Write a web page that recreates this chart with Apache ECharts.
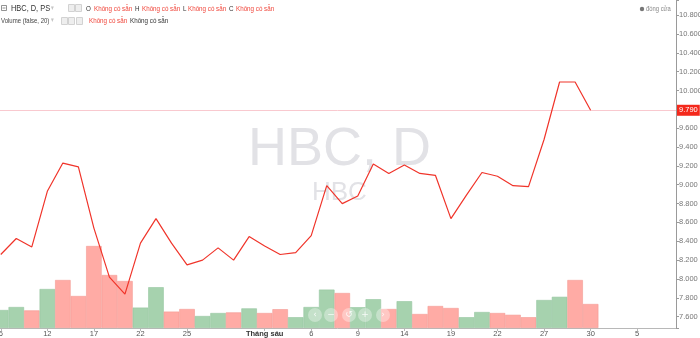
<!DOCTYPE html>
<html>
<head>
<meta charset="utf-8">
<script src="https://cdn.jsdelivr.net/npm/echarts@6/dist/echarts.min.js"></script>
<style>html,body{margin:0;padding:0;background:#fff}#c{width:700px;height:338px}</style>
</head>
<body>
<div id="c"></div>
<script>
// ---- data ----
const slotCount = 44; // visible category slots (incl. future space)
const tickIdx  = [0, 3, 6, 9, 12, 17, 20, 23, 26, 29, 32, 35, 38, 41];
const tickText = ['6', '12', '17', '22', '25', 'Tháng sáu', '6', '9', '14', '19', '22', '27', '30', '5'];
const closes = [8260, 8430, 8340, 8930, 9230, 9190, 8540, 8020, 7840, 8380,
                8640, 8380, 8150, 8200, 8330, 8200, 8450, 8350, 8260, 8280,
                8460, 8990, 8800, 8880, 9220, 9120, 9210, 9120, 9100, 8640,
                8890, 9130, 9090, 8990, 8980, 9480, 10090, 10090, 9790];
const volumes = [450, 525, 440, 975, 1200, 800, 2050, 1325, 1175, 510,
                 1020, 410, 475, 300, 375, 390, 490, 375, 470, 270,
                 525, 960, 875, 520, 720, 475, 670, 350, 550, 500,
                 270, 400, 375, 330, 270, 700, 780, 1200, 600];
const volDir = ['u','u','d','u','d','d','d','d','d','u',
                'u','d','d','u','u','d','u','d','d','u',
                'u','u','d','u','u','d','u','d','d','d',
                'u','u','d','d','d','u','u','d','d'];
const priceTicks = {min: 7480, max: 10960, step: 200};
const naText = 'Không có sẵn';
// ---- end data ----

const categories = Array.from({length: slotCount}, (_, i) => String(i));
const labelOf = i => { const k = tickIdx.indexOf(i); return k < 0 ? '' : tickText[k]; };
const fmt = v => String(v).replace(/\B(?=(\d{3})+(?!\d))/g, '.');
const lastClose = closes[closes.length - 1];

const FONT = "'Liberation Sans', Arial, sans-serif";
const RED_TXT = '#f0453a';
const UP = '#a6d2ae', UPB = '#96c69f', DN = '#ffaba5', DNB = '#f49a94';
const SX = 0.78; // horizontal squeeze of the UI text

function txt(x, y, t, size, fill, font) {
  return {type: 'text', x: x, y: y, scaleX: SX, silent: true,
    style: {text: t, fontSize: size, fill: fill, fontFamily: font || FONT, verticalAlign: 'middle', align: 'left'}};
}
function box(x, y, w, h) {
  return {type: 'rect', silent: true, shape: {x: x + 0.5, y: y + 0.5, width: w, height: h},
          style: {fill: '#eeeeee', stroke: '#d2d2d2', lineWidth: 1}};
}

const chart = echarts.init(document.getElementById('c'), null, {renderer: 'canvas'});
const option = {
  animation: false,
  backgroundColor: '#ffffff',
  textStyle: {fontFamily: FONT},
  grid: {left: -7, right: 24, top: 0, bottom: 10, containLabel: false, outerBoundsMode: 'none'},
  xAxis: {
    type: 'category',
    data: categories,
    boundaryGap: true,
    axisLine: {lineStyle: {color: '#b8b8b8', width: 1}},
    axisTick: {show: true, alignWithLabel: true, length: 3, lineStyle: {color: '#b8b8b8'},
               interval: i => labelOf(i) !== ''},
    axisLabel: {interval: 0, fontSize: 7.5, color: '#555', margin: 2,
                formatter: (v, i) => { const t = labelOf(i); return t === 'Tháng sáu' ? '{b|' + t + '}' : t; },
                rich: {b: {fontSize: 7.5, fontWeight: 'bold', color: '#333'}}},
    splitLine: {show: false}
  },
  yAxis: [{
    type: 'value',
    position: 'right',
    min: priceTicks.min,
    max: priceTicks.max,
    splitNumber: 17,
    scale: true,
    axisLine: {show: true, lineStyle: {color: '#9a9a9a'}},
    axisTick: {show: true, length: 3, lineStyle: {color: '#9a9a9a'}},
    axisLabel: {fontSize: 7.5, color: '#777', margin: 3,
                formatter: v => (v % priceTicks.step === 0 ? fmt(v) : '')},
    splitLine: {show: false}
  }, {
    type: 'value',
    show: false,
    min: 0,
    max: 8200
  }],
  graphic: [
    // watermark
    {type: 'text', left: 248, top: 123, z: 0, silent: true,
     style: {text: 'HBC, D', fontSize: 54, fontFamily: FONT, fill: '#e2e2e6'}},
    {type: 'text', left: 312, top: 180, z: 0, silent: true,
     style: {text: 'HBC', fontSize: 26, fontFamily: FONT, fill: '#e2e2e6'}},
    // legend line 1
    {type: 'rect', silent: true, shape: {x: 1.5, y: 5.5, width: 5, height: 5}, style: {fill: 'none', stroke: '#777', lineWidth: 0.8}},
    {type: 'line', silent: true, shape: {x1: 2.5, y1: 8, x2: 5.5, y2: 8}, style: {stroke: '#777', lineWidth: 0.8}},
    txt(11, 8, 'HBC, D, PS', 9.5, '#333'),
    txt(51, 8, '▾', 7, '#c4c4c4', 'DejaVu Sans'),
    box(68, 4, 6, 7), box(75, 4, 6, 7),
    txt(86, 8.5, 'O', 8, '#333'), txt(94, 8.5, naText, 8, RED_TXT),
    txt(135, 8.5, 'H', 8, '#333'), txt(142, 8.5, naText, 8, RED_TXT),
    txt(183, 8.5, 'L', 8, '#333'), txt(188, 8.5, naText, 8, RED_TXT),
    txt(229, 8.5, 'C', 8, '#333'), txt(236, 8.5, naText, 8, RED_TXT),
    // legend line 2
    txt(1, 20.5, 'Volume (false, 20)', 7.7, '#444'),
    txt(51, 20.5, '▾', 7, '#c4c4c4', 'DejaVu Sans'),
    box(61, 17, 6, 7), box(68, 17, 6, 7), box(76, 17, 6, 7),
    txt(89, 20.5, naText, 8, RED_TXT), txt(130, 20.5, naText, 8, '#333'),
    // close legend top-right
    {type: 'circle', silent: true, shape: {cx: 642, cy: 9, r: 2.2}, style: {fill: '#777'}},
    txt(646, 9, 'đóng cửa', 7.5, '#888'),
    // navigation buttons
    ...[[315, '‹'], [331, '−'], [349, '↺'], [365, '+'], [383, '›']].flatMap(([cx, t]) => [
      {type: 'circle', z: 100, silent: true, shape: {cx: cx, cy: 315, r: 7}, style: {fill: 'rgba(255,255,255,0.35)'}},
      {type: 'text', z: 101, silent: true, x: cx, y: 315, style: {text: t, fontSize: 9, fill: 'rgba(255,255,255,0.85)', align: 'center', verticalAlign: 'middle', fontFamily: 'DejaVu Sans'}}
    ])
  ],
  series: [{
    name: 'Volume',
    type: 'bar',
    yAxisIndex: 1,
    barCategoryGap: '0%',
    z: 1,
    data: volumes.map((v, i) => ({value: v, itemStyle: {
      color: volDir[i] === 'u' ? UP : DN,
      borderColor: volDir[i] === 'u' ? UPB : DNB, borderWidth: 0.6}}))
  }, {
    name: 'đóng cửa',
    type: 'line',
    yAxisIndex: 0,
    data: closes,
    symbol: 'none',
    z: 5,
    lineStyle: {color: '#f0342a', width: 1.2},
    markLine: {
      silent: true,
      symbol: 'none',
      lineStyle: {color: '#f9c9cf', width: 1, type: 'solid'},
      label: {show: true, position: 'end', distance: 1, formatter: () => fmt(lastClose),
              backgroundColor: '#f4291c', color: '#fff', fontSize: 7.5, padding: [2, 2, 1, 2], fontFamily: FONT},
      data: [{yAxis: lastClose}]
    }
  }]
};
chart.setOption(option);
</script>
</body>
</html>
